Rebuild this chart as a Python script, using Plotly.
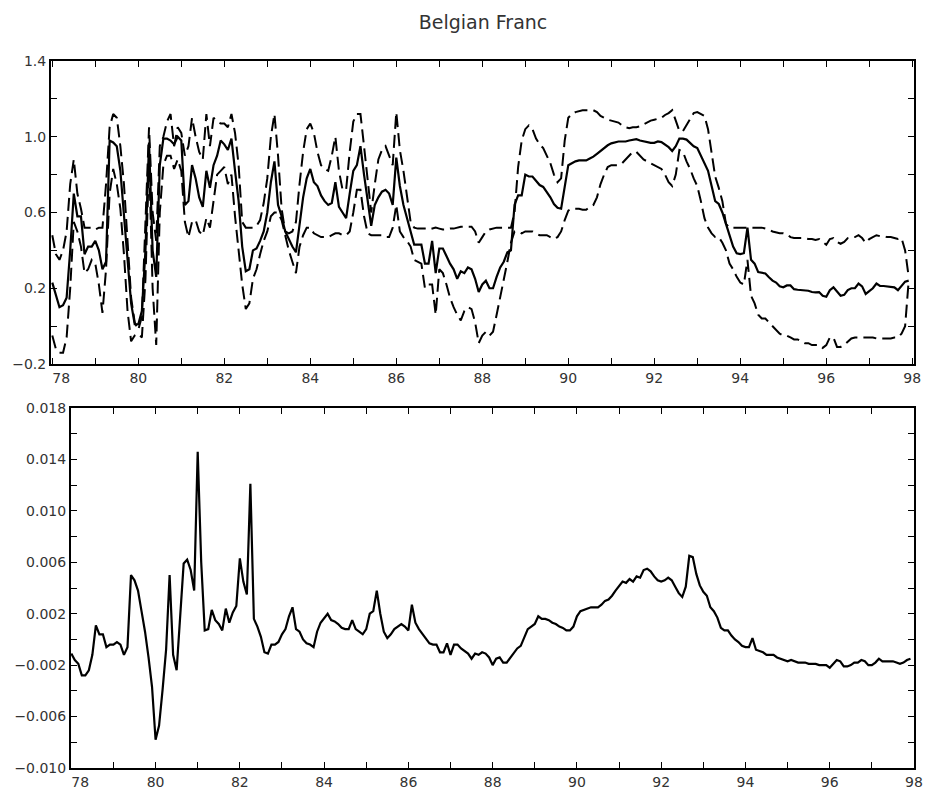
import plotly.graph_objects as go

# Monthly observations, Jan 1978 .. Dec 1997 (12 values per row / year)
start_year = 78
prob_mid = [
    0.23, 0.17, 0.10, 0.11, 0.15, 0.40, 0.70, 0.58, 0.58, 0.38, 0.42, 0.42,
    0.45, 0.40, 0.30, 0.34, 0.98, 0.97, 0.95, 0.82, 0.58, 0.32, 0.12, 0.01,
    0.01, 0.08, 0.40, 0.97, 0.40, 0.26, 0.85, 0.99, 0.99, 0.98, 0.96, 1.00,
    0.98, 0.64, 0.66, 0.85, 0.78, 0.68, 0.63, 0.82, 0.73, 0.85, 0.90, 0.98,
    0.96, 0.93, 0.99, 0.82, 0.66, 0.42, 0.29, 0.30, 0.40, 0.41, 0.45, 0.50,
    0.60, 0.76, 0.87, 0.64, 0.58, 0.50, 0.46, 0.42, 0.39, 0.55, 0.68, 0.78,
    0.83, 0.76, 0.74, 0.69, 0.66, 0.64, 0.65, 0.76, 0.63, 0.60, 0.57, 0.70,
    0.82, 0.85, 0.95, 0.80, 0.65, 0.53, 0.64, 0.68, 0.71, 0.72, 0.70, 0.64,
    0.89, 0.74, 0.64, 0.57, 0.51, 0.43, 0.43, 0.43, 0.33, 0.33, 0.45, 0.28,
    0.41, 0.41, 0.37, 0.33, 0.30, 0.25, 0.29, 0.28, 0.31, 0.30, 0.25, 0.18,
    0.22, 0.24, 0.20, 0.20, 0.26, 0.31, 0.34, 0.39, 0.40, 0.64, 0.69, 0.69,
    0.80, 0.79, 0.79, 0.77, 0.745, 0.735, 0.71, 0.68, 0.645, 0.625, 0.62, 0.74,
    0.85, 0.86, 0.87, 0.875, 0.875, 0.875, 0.885, 0.895, 0.91, 0.925, 0.94, 0.955,
    0.965, 0.97, 0.975, 0.975, 0.975, 0.98, 0.985, 0.987, 0.98, 0.975, 0.97, 0.968,
    0.968, 0.975, 0.972, 0.96, 0.945, 0.925, 0.95, 0.99, 0.99, 0.985, 0.965, 0.95,
    0.94, 0.90, 0.86, 0.82, 0.74, 0.66, 0.645, 0.60, 0.54, 0.48, 0.42, 0.385,
    0.38, 0.385, 0.52, 0.35, 0.33, 0.285, 0.28, 0.278, 0.258, 0.24, 0.23, 0.21,
    0.205, 0.215, 0.215, 0.195, 0.192, 0.19, 0.19, 0.187, 0.18, 0.178, 0.18, 0.16,
    0.155, 0.19, 0.205, 0.18, 0.16, 0.165, 0.19, 0.20, 0.20, 0.225, 0.21, 0.17,
    0.185, 0.20, 0.225, 0.212, 0.212, 0.21, 0.21, 0.205, 0.19, 0.215, 0.235, 0.24,
]
prob_upper = [
    0.48, 0.38, 0.35, 0.40, 0.50, 0.75, 0.88, 0.70, 0.62, 0.52, 0.52, 0.52,
    0.51, 0.52, 0.52, 0.75, 1.05, 1.12, 1.10, 0.95, 0.75, 0.45, 0.15, 0.02,
    -0.02, 0.05, 0.55, 1.05, 0.60, 0.45, 0.95, 1.00, 1.08, 1.12, 0.95, 1.05,
    1.02, 0.90, 0.95, 1.10, 1.00, 0.92, 0.88, 1.12, 0.95, 1.10, 1.08, 1.07,
    1.07, 1.05, 1.12, 1.02, 0.85, 0.55, 0.52, 0.52, 0.52, 0.53, 0.56, 0.65,
    0.78, 1.00, 1.12, 0.90, 0.62, 0.50, 0.49, 0.50, 0.55, 0.75, 0.92, 1.04,
    1.07, 1.02, 0.92, 0.85, 0.83, 0.82, 0.90, 1.00, 0.82, 0.72, 0.72, 0.92,
    1.08, 1.12, 1.12, 0.95, 0.78, 0.60, 0.75, 0.88, 0.93, 0.95, 0.90, 0.85,
    1.13, 0.93, 0.82, 0.68, 0.55, 0.52, 0.515, 0.515, 0.515, 0.51, 0.515, 0.52,
    0.515, 0.51, 0.51, 0.515, 0.515, 0.52, 0.525, 0.525, 0.525, 0.525, 0.50, 0.44,
    0.47, 0.50, 0.51, 0.515, 0.52, 0.52, 0.52, 0.52, 0.52, 0.60, 0.84, 0.98,
    1.04, 1.06, 1.04, 0.99, 0.96, 0.94, 0.90, 0.86, 0.80, 0.76, 0.78, 0.98,
    1.10, 1.12, 1.13, 1.135, 1.14, 1.14, 1.14, 1.14, 1.13, 1.11, 1.10, 1.09,
    1.085, 1.08, 1.075, 1.06, 1.05, 1.045, 1.05, 1.05, 1.055, 1.065, 1.075, 1.085,
    1.09, 1.095, 1.10, 1.115, 1.125, 1.14, 1.09, 1.03, 1.03, 1.06, 1.09, 1.125,
    1.13, 1.12, 1.11, 1.04, 0.92, 0.79, 0.73, 0.66, 0.54, 0.52, 0.52, 0.52,
    0.52, 0.52, 0.52, 0.52, 0.52, 0.52, 0.52, 0.515, 0.51, 0.50, 0.495, 0.49,
    0.49, 0.485, 0.47, 0.465, 0.465, 0.465, 0.465, 0.46, 0.46, 0.455, 0.46, 0.445,
    0.43, 0.46, 0.465, 0.445, 0.435, 0.445, 0.465, 0.47, 0.47, 0.48, 0.465, 0.44,
    0.46, 0.47, 0.48, 0.475, 0.475, 0.47, 0.47, 0.465, 0.46, 0.465, 0.40, 0.26,
]
prob_lower = [
    -0.05, -0.12, -0.14, -0.14, -0.06, 0.20, 0.55, 0.50, 0.42, 0.28, 0.30, 0.35,
    0.33, 0.22, 0.07, 0.30, 0.70, 0.83, 0.75, 0.62, 0.38, 0.08, -0.08, -0.05,
    -0.04, -0.06, 0.25, 0.88, 0.20, -0.10, 0.60, 0.85, 0.90, 0.90, 0.83, 0.88,
    0.82, 0.55, 0.47, 0.55, 0.56, 0.50, 0.48, 0.57, 0.52, 0.65, 0.80, 0.82,
    0.84, 0.75, 0.80, 0.58, 0.40, 0.22, 0.09, 0.12, 0.25, 0.30, 0.38, 0.45,
    0.50, 0.58, 0.60, 0.60, 0.56, 0.48, 0.40, 0.34, 0.28, 0.42, 0.48, 0.52,
    0.52, 0.49, 0.48, 0.47, 0.47, 0.47, 0.48, 0.49, 0.49, 0.48, 0.48, 0.50,
    0.60, 0.72, 0.72, 0.58, 0.49, 0.48, 0.48, 0.48, 0.48, 0.47, 0.47, 0.52,
    0.64, 0.50, 0.47, 0.45, 0.42, 0.35, 0.34, 0.33, 0.20, 0.22, 0.22, 0.06,
    0.30, 0.28, 0.22, 0.15, 0.10, 0.06, 0.03, 0.08, 0.10, 0.09, 0.02, -0.09,
    -0.05, -0.03, -0.05, -0.03, 0.06, 0.15, 0.24, 0.34, 0.44, 0.50, 0.50, 0.49,
    0.50, 0.50, 0.50, 0.49, 0.48, 0.48, 0.48, 0.47, 0.46, 0.47, 0.50, 0.56,
    0.61, 0.62, 0.62, 0.62, 0.615, 0.615, 0.63, 0.64, 0.68, 0.75, 0.80, 0.84,
    0.85, 0.85, 0.85, 0.86, 0.88, 0.90, 0.92, 0.92, 0.90, 0.88, 0.87, 0.86,
    0.85, 0.84, 0.83, 0.80, 0.76, 0.74, 0.80, 0.93, 0.92, 0.87, 0.83, 0.78,
    0.74, 0.66, 0.57, 0.52, 0.49, 0.47, 0.47, 0.44, 0.40, 0.33, 0.30, 0.26,
    0.23, 0.22, 0.35, 0.16, 0.12, 0.06, 0.04, 0.04, 0.02, 0.00, -0.02, -0.04,
    -0.05, -0.05, -0.06, -0.07, -0.07, -0.08, -0.09, -0.09, -0.10, -0.10, -0.10, -0.115,
    -0.10, -0.06, -0.06, -0.11, -0.11, -0.10, -0.08, -0.065, -0.06, -0.06, -0.06, -0.06,
    -0.06, -0.06, -0.065, -0.065, -0.065, -0.065, -0.065, -0.06, -0.06, -0.04, 0.00, 0.24,
]
effect = [
    -0.0011, -0.0016, -0.0019, -0.0028, -0.0028, -0.0024, -0.0012, 0.0011, 0.0004, 0.0004, -0.0006, -0.0004,
    -0.0004, -0.0002, -0.0004, -0.0012, -0.0006, 0.0050, 0.0046, 0.0038, 0.0022, 0.0006, -0.0014, -0.0037,
    -0.0078, -0.0067, -0.0039, -0.0008, 0.0050, -0.0012, -0.0024, 0.0015, 0.0059, 0.0062, 0.0054, 0.0038,
    0.0146, 0.0060, 0.0007, 0.0008, 0.0023, 0.0015, 0.0012, 0.0007, 0.0024, 0.0013, 0.0021, 0.0026,
    0.0063, 0.0045, 0.0035, 0.0121, 0.0016, 0.0010, 0.0002, -0.0010, -0.0011, -0.0004, -0.0004, -0.0002,
    0.0004, 0.0008, 0.0018, 0.0025, 0.0008, 0.0006, 0.0000, -0.0003, -0.0004, -0.0006, 0.0006, 0.0013,
    0.0017, 0.0020, 0.0015, 0.0014, 0.0012, 0.0009, 0.0008, 0.0008, 0.0015, 0.0008, 0.0006, 0.0004,
    0.0008, 0.0020, 0.0022, 0.0038, 0.0020, 0.0006, 0.0001, 0.0004, 0.0008, 0.0010, 0.0012, 0.0010,
    0.0007, 0.0027, 0.0013, 0.0008, 0.0004, 0.0001, -0.0003, -0.0004, -0.0004, -0.0010, -0.0010, -0.0003,
    -0.0012, -0.0004, -0.0004, -0.0007, -0.0009, -0.0011, -0.0015, -0.0011, -0.0012, -0.0010, -0.0011, -0.0014,
    -0.0020, -0.0015, -0.0014, -0.0018, -0.0018, -0.0014, -0.0010, -0.0007, -0.0005, 0.0002, 0.0008, 0.0010,
    0.0012, 0.0018, 0.0016, 0.0016, 0.0015, 0.0013, 0.0012, 0.0010, 0.0009, 0.0007, 0.0007, 0.0010,
    0.0018, 0.0022, 0.0023, 0.0024, 0.0025, 0.0025, 0.0025, 0.0027, 0.0030, 0.0031, 0.0034, 0.0038,
    0.0042, 0.0045, 0.0044, 0.0047, 0.0045, 0.0049, 0.0048, 0.0054, 0.0055, 0.0053, 0.0049, 0.0046,
    0.0045, 0.0046, 0.0048, 0.0046, 0.0041, 0.0036, 0.0033, 0.0041, 0.0065, 0.0064, 0.0051, 0.0042,
    0.0037, 0.0034, 0.0025, 0.0022, 0.0017, 0.0009, 0.0007, 0.0007, 0.0003, 0.0000, -0.0002, -0.0005,
    -0.0006, -0.0006, 0.0001, -0.0008, -0.0009, -0.0010, -0.0012, -0.0012, -0.0012, -0.0014, -0.0015, -0.0016,
    -0.0017, -0.0016, -0.0017, -0.0018, -0.0018, -0.0018, -0.0019, -0.0019, -0.0019, -0.0020, -0.0020, -0.0020,
    -0.0022, -0.0019, -0.0016, -0.0017, -0.0021, -0.0021, -0.0020, -0.0018, -0.0018, -0.0016, -0.0017, -0.0020,
    -0.0020, -0.0018, -0.0015, -0.0017, -0.0017, -0.0017, -0.0017, -0.0018, -0.0019, -0.0018, -0.0016, -0.0015,
]
x_tick_vals = [78, 80, 82, 84, 86, 88, 90, 92, 94, 96, 98]
x_tick_text = ["\u00a0\u00a0\u00a0\u00a078", "80", "82", "84", "86", "88", "90", "92", "94", "96", "98"]
title_text = "Belgian Franc"

def months(n):
    return [start_year + i / 12 for i in range(n)]

fig = go.Figure()
blk = "black"
fig.add_trace(go.Scatter(x=months(len(prob_upper)), y=prob_upper, mode="lines",
                         line=dict(color=blk, width=2, dash="13px,6px"), xaxis="x", yaxis="y"))
fig.add_trace(go.Scatter(x=months(len(prob_lower)), y=prob_lower, mode="lines",
                         line=dict(color=blk, width=2, dash="13px,6px"), xaxis="x", yaxis="y"))
fig.add_trace(go.Scatter(x=months(len(prob_mid)), y=prob_mid, mode="lines",
                         line=dict(color=blk, width=2.2), xaxis="x", yaxis="y"))
fig.add_trace(go.Scatter(x=months(len(effect)), y=effect, mode="lines",
                         line=dict(color=blk, width=2.2), xaxis="x2", yaxis="y2"))

W, H = 925, 794
font = dict(family="DejaVu Sans", size=14, color="#333")
common_x = dict(tickvals=x_tick_vals, ticktext=x_tick_text, ticks="inside", ticklen=6,
                tickcolor=blk, showline=True, linewidth=2, linecolor=blk, mirror="allticks",
                showgrid=False, zeroline=False, tickfont=font, automargin=False,
                minor=dict(dtick=1, tick0=78, ticks="inside", ticklen=6, tickcolor=blk, showgrid=False))
common_y = dict(ticks="inside", ticklen=6, tickcolor=blk, showline=True, linewidth=2, linecolor=blk,
                mirror="allticks", showgrid=False, zeroline=False, tickfont=font, automargin=False)

fig.update_layout(
    width=W, height=H, margin=dict(l=0, r=0, t=0, b=0, pad=0, autoexpand=False),
    paper_bgcolor="white", plot_bgcolor="white", showlegend=False,
    title=dict(text=title_text, x=483 / W, xanchor="center", y=1 - 22 / H, yanchor="middle",
               font=dict(family="DejaVu Sans", size=19, color="#333")),
    xaxis=dict(domain=[51 / W, 914 / W], range=[77.97, 98.04], anchor="y", **common_x),
    yaxis=dict(domain=[1 - 364 / H, 1 - 61 / H], range=[-0.2, 1.4], anchor="x",
               tickvals=[-0.2, 0.2, 0.6, 1.0, 1.4], tickformat=".1f",
               minor=dict(dtick=0.2, tick0=-0.2, ticks="inside", ticklen=6, tickcolor=blk, showgrid=False),
               **common_y),
    xaxis2=dict(domain=[71 / W, 914 / W], range=[77.993, 98.0], anchor="y2", **common_x),
    yaxis2=dict(domain=[1 - 768 / H, 1 - 408 / H], range=[-0.010, 0.018], anchor="x2",
                tickvals=[-0.010, -0.006, -0.002, 0.002, 0.006, 0.010, 0.014, 0.018], tickformat=".3f",
                minor=dict(dtick=0.002, tick0=-0.010, ticks="inside", ticklen=6, tickcolor=blk, showgrid=False),
                **common_y),
)
fig.write_html("out.html")
